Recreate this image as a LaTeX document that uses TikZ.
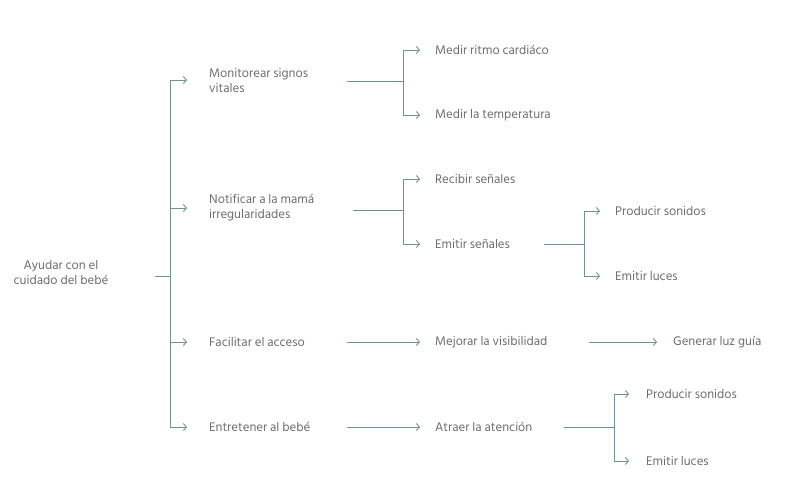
\documentclass[tikz,border=0pt]{standalone}
\usepackage{fontspec}
\setmainfont{Hind Siliguri}
\usetikzlibrary{arrows.meta}
\definecolor{txtgray}{HTML}{6A6E70}
\definecolor{lncol}{HTML}{6F9297}
\tikzset{
  lbl/.style={anchor=west,inner sep=0pt,text=txtgray,font=\fontsize{12.8}{15}\selectfont,align=left},
  conn/.style={draw=lncol,line width=1pt},
  arr/.style={conn,-{Straight Barb[length=3pt,width=7pt,line width=0.9pt]}},
}
\begin{document}
\begin{tikzpicture}[x=1pt,y=-1pt]
\useasboundingbox (0,0) rectangle (793,483);
% nodes
\node[lbl,anchor=center,align=center] (root) at (61,272.5) {Ayudar con el\\cuidado del bebé};
\node[lbl] (m1) at (209,80) {Monitorear signos\\vitales};
\node[lbl] (m2) at (209,208) {Notificar a la mamá\\irregularidades};
\node[lbl] (m3) at (209,342) {Facilitar el acceso};
\node[lbl] (m4) at (209,427) {Entretener al bebé};
\node[lbl] (a1) at (435,50) {Medir ritmo cardiáco};
\node[lbl] (a2) at (435,115) {Medir la temperatura};
\node[lbl] (b1) at (435,179) {Recibir señales};
\node[lbl] (b2) at (435,244) {Emitir señales};
\node[lbl] (c1) at (615,211) {Producir sonidos};
\node[lbl] (c2) at (615,276) {Emitir luces};
\node[lbl] (d1) at (435,342) {Mejorar la visibilidad};
\node[lbl] (d2) at (673,342) {Generar luz guía};
\node[lbl] (e1) at (435,427) {Atraer la atención};
\node[lbl] (f1) at (646,394) {Producir sonidos};
\node[lbl] (f2) at (646,461) {Emitir luces};
% coordinates
\coordinate (r0) at (155,276);
\coordinate (rj) at (170,276);
\coordinate (m1o) at (347,81);
\coordinate (m1j) at (403,81);
\coordinate (m2o) at (353,210);
\coordinate (m2j) at (403,210);
\coordinate (b2o) at (544,244);
\coordinate (b2j) at (584,244);
\coordinate (m3o) at (347,342);
\coordinate (d1o) at (589,342);
\coordinate (m4o) at (347,427);
\coordinate (e1o) at (564,427);
\coordinate (e1j) at (614,427);
% connectors
\draw[conn] (r0) -- (rj);
\draw[arr,shorten >=22pt] (rj) |- (m1.west);
\draw[arr,shorten >=22pt] (rj) |- (m2.west);
\draw[arr,shorten >=22pt] (rj) |- (m3.west);
\draw[arr,shorten >=22pt] (rj) |- (m4.west);
\draw[conn] (m1o) -- (m1j);
\draw[arr,shorten >=15pt] (m1j) |- (a1.west);
\draw[arr,shorten >=15pt] (m1j) |- (a2.west);
\draw[conn] (m2o) -- (m2j);
\draw[arr,shorten >=15pt] (m2j) |- (b1.west);
\draw[arr,shorten >=15pt] (m2j) |- (b2.west);
\draw[conn] (b2o) -- (b2j);
\draw[arr,shorten >=15pt] (b2j) |- (c1.west);
\draw[arr,shorten >=15pt] (b2j) |- (c2.west);
\draw[arr,shorten >=15pt] (m3o) -- (d1.west);
\draw[arr,shorten >=16pt] (d1o) -- (d2.west);
\draw[arr,shorten >=15pt] (m4o) -- (e1.west);
\draw[conn] (e1o) -- (e1j);
\draw[arr,shorten >=17pt] (e1j) |- (f1.west);
\draw[arr,shorten >=17pt] (e1j) |- (f2.west);
\end{tikzpicture}
\end{document}
